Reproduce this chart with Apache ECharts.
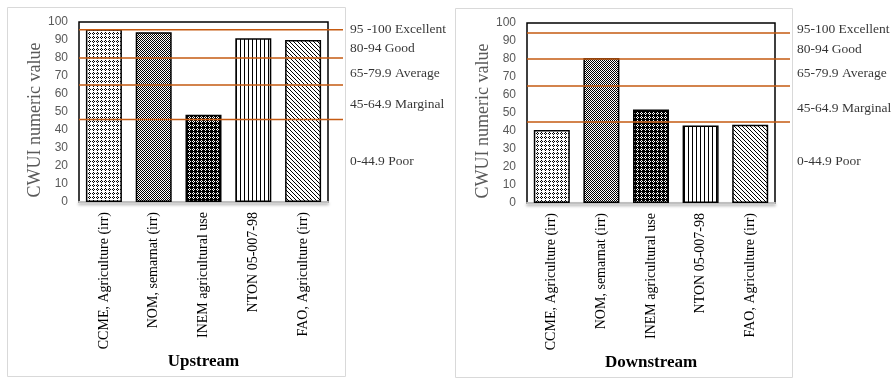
<!DOCTYPE html>
<html><head><meta charset="utf-8">
<script src="https://cdn.jsdelivr.net/npm/echarts@6/dist/echarts.min.js"></script>
<style>html,body{margin:0;padding:0;background:#fff}#c{width:896px;height:387px}</style>
</head><body><div id="c"></div>
<script>
// ---- data ----
const categories = ['CCME, Agriculture (irr)', 'NOM, semarnat (irr)', 'INEM agricultural use', 'NTON 05-007-98', 'FAO, Agriculture (irr)'];
const upstreamValues = [96, 94.3, 48.5, 91, 90];
const downstreamValues = [40.5, 80.5, 52, 43, 43.5];
const upstreamThresholds = [95.7, 80, 65, 45.8];
const downstreamThresholds = [94.5, 80, 65, 45];
const upstreamBandLabels = ['95 -100 Excellent', '80-94 Good', '65-79.9 Average', '45-64.9 Marginal', '0-44.9 Poor'];
const downstreamBandLabels = ['95-100 Excellent', '80-94 Good', '65-79.9 Average', '45-64.9 Marginal', '0-44.9 Poor'];
const upstreamBandLabelAt = [96.1, 85.5, 71.6, 54.4, 22.7];
const downstreamBandLabelAt = [96.5, 85.5, 72, 52.6, 23.2];
const yTicks = [0, 10, 20, 30, 40, 50, 60, 70, 80, 90, 100];

// ---- patterns ----
function tile(w, h, fn) {
  const c = document.createElement('canvas'); c.width = w; c.height = h;
  const g = c.getContext('2d'); g.fillStyle = '#fff'; g.fillRect(0, 0, w, h);
  g.fillStyle = '#000';
  for (let y = 0; y < h; y++) for (let x = 0; x < w; x++) if (fn(x, y)) g.fillRect(x, y, 1, 1);
  return c;
}
const patterns = [
  tile(4, 4, (x, y) => (x === 1 && (y === 0 || y === 2)) || (y === 1 && (x === 0 || x === 2))),
  tile(2, 2, (x, y) => (x + y) % 2 === 0),
  tile(4, 4, (x, y) => !((x === 1 && (y === 0 || y === 2)) || (y === 1 && (x === 0 || x === 2)))),
  tile(4, 1, (x, y) => x === 0),
  tile(4, 4, (x, y) => x === y)
];
const fills = patterns.map(p => ({ image: p, repeat: 'repeat' }));

const serif = '"Liberation Serif", "DejaVu Serif", serif';
const sans = '"Liberation Sans", Arial, sans-serif';
const orange = '#C55A11';

const panels = [
  { name: 'Upstream', values: upstreamValues, th: upstreamThresholds, labels: upstreamBandLabels, at: upstreamBandLabelAt,
    bar: { left: 79, top: 22, width: 249, height: 180 }, line: { left: 79, top: 22, width: 264, height: 180 } },
  { name: 'Downstream', values: downstreamValues, th: downstreamThresholds, labels: downstreamBandLabels, at: downstreamBandLabelAt,
    bar: { left: 527, top: 23, width: 248, height: 180 }, line: { left: 527, top: 23, width: 263, height: 180 } }
];

const grid = [], xAxis = [], yAxis = [], series = [];
panels.forEach((p, i) => {
  const gb = grid.length;
  grid.push(Object.assign({ show: true, borderColor: '#000', borderWidth: 1.5, backgroundColor: '#fff' }, p.bar));
  grid.push(Object.assign({ show: false }, p.line));
  xAxis.push({
    type: 'category', gridIndex: gb, data: categories,
    axisLine: { lineStyle: { color: '#bfbfbf', width: 2, shadowColor: 'rgba(0,0,0,0.35)', shadowBlur: 3, shadowOffsetY: 2 } },
    axisTick: { show: false },
    axisLabel: { rotate: 90, fontFamily: serif, fontSize: 14, color: '#000', margin: 10 },
    name: p.name, nameLocation: 'middle', nameGap: 145,
    nameTextStyle: { fontFamily: serif, fontSize: 17, fontWeight: 'bold', color: '#000' }
  });
  xAxis.push({ type: 'value', gridIndex: gb + 1, min: 0, max: 1, show: false });
  yAxis.push({
    type: 'value', gridIndex: gb, min: yTicks[0], max: yTicks[yTicks.length - 1], interval: 10,
    axisLine: { show: false }, axisTick: { show: false }, splitLine: { show: false },
    axisLabel: { fontFamily: sans, fontSize: 12, color: '#595959', margin: 11 },
    name: 'CWUI numeric value', nameLocation: 'middle', nameGap: 34, nameRotate: 90,
    nameTextStyle: { fontFamily: serif, fontSize: 18, color: '#595959', padding: [0, 16, 0, 0] }
  });
  yAxis.push({ type: 'value', gridIndex: gb + 1, min: 0, max: 100, show: false });
  series.push({
    type: 'bar', xAxisIndex: gb, yAxisIndex: gb, barWidth: 36, z: 3,
    data: p.values.map((v, k) => ({ value: v, itemStyle: { color: fills[k], borderColor: '#000', borderWidth: 1.5 } })),
    silent: true
  });
  p.th.forEach(t => {
    series.push({
      type: 'line', xAxisIndex: gb + 1, yAxisIndex: gb + 1, data: [[0, t], [1, t]], symbol: 'none', z: 5,
      lineStyle: { color: orange, width: 1.5 }, silent: true, animation: false
    });
  });
  series.push({
    type: 'scatter', xAxisIndex: gb + 1, yAxisIndex: gb + 1, symbolSize: 0, clip: false,
    data: p.labels.map((l, k) => ({ name: l, value: [1, p.at[k]] })),
    label: { show: true, position: 'right', distance: 7, formatter: '{b}', fontFamily: serif, fontSize: 13.5, color: '#000' },
    silent: true
  });
});

const chart = echarts.init(document.getElementById('c'), null, { renderer: 'canvas' });
chart.setOption({
  animation: false,
  graphic: [
    { type: 'rect', shape: { x: 7.5, y: 7.5, width: 338, height: 369 }, style: { fill: null, stroke: '#d9d9d9', lineWidth: 1 }, z: -10 },
    { type: 'rect', shape: { x: 455.5, y: 8.5, width: 337, height: 369 }, style: { fill: null, stroke: '#d9d9d9', lineWidth: 1 }, z: -10 }
  ],
  grid, xAxis, yAxis, series
});
</script></body></html>
